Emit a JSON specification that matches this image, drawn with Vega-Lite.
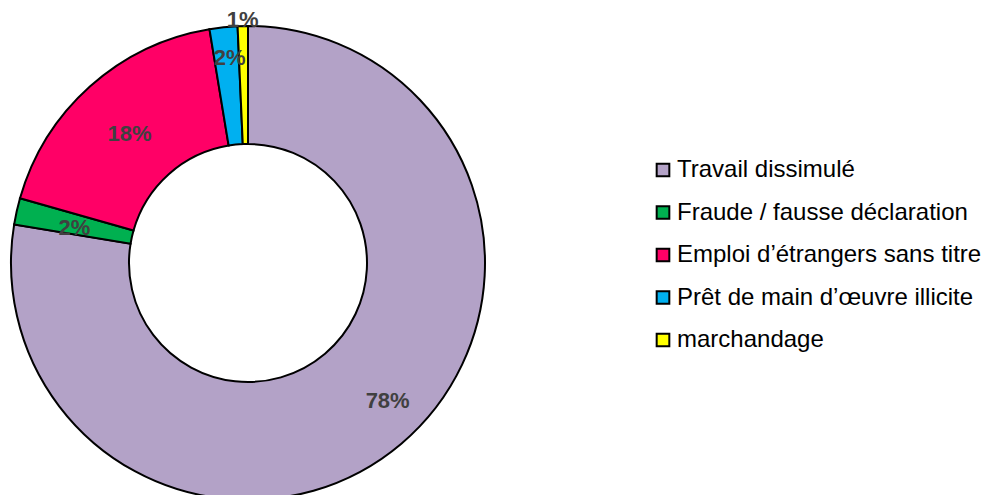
{
  "$schema": "https://vega.github.io/schema/vega-lite/v6.json",
  "width": 496,
  "height": 526,
  "padding": {"left": 0, "top": 0, "right": 0, "bottom": 0},
  "background": "white",
  "config": {"view": {"stroke": null}},
  "data": {
    "values": [
      {"cat": "Travail dissimulé", "v": 77.6, "label": "78%", "k": 1},
      {"cat": "Fraude / fausse déclaration", "v": 1.8, "label": "2%", "k": 2},
      {"cat": "Emploi d’étrangers sans titre", "v": 18.0, "label": "18%", "k": 3},
      {"cat": "Prêt de main d’œuvre illicite", "v": 1.9, "label": "2%", "k": 4},
      {"cat": "marchandage", "v": 0.7, "label": "1%", "k": 5}
    ]
  },
  "encoding": {
    "theta": {"field": "v", "type": "quantitative", "stack": true},
    "order": {"field": "k", "type": "quantitative"}
  },
  "layer": [
    {
      "mark": {"type": "arc", "outerRadius": 237, "innerRadius": 119, "stroke": "black", "strokeWidth": 2},
      "encoding": {
        "color": {
          "field": "cat",
          "type": "nominal",
          "scale": {
            "domain": ["Travail dissimulé", "Fraude / fausse déclaration", "Emploi d’étrangers sans titre", "Prêt de main d’œuvre illicite", "marchandage"],
            "range": ["#B3A2C7", "#00B050", "#FF0066", "#00B0F0", "#FFFF00"]
          },
          "legend": {
            "title": null,
            "orient": "none",
            "legendX": 651,
            "legendY": 158,
            "symbolType": "square",
            "symbolSize": 160,
            "symbolStrokeColor": "black",
            "symbolStrokeWidth": 2,
            "symbolOpacity": 1,
            "labelFont": "Liberation Sans",
            "labelFontSize": 24,
            "labelColor": "black",
            "labelLimit": 400,
            "labelOffset": 2,
            "rowPadding": 18.5
          }
        }
      }
    },
    {
      "mark": {"type": "text", "radius": 188, "dx": 18, "dy": -5, "font": "Liberation Sans", "fontWeight": "bold", "fontSize": 22, "fill": "#404040"},
      "encoding": {
        "text": {"condition": {"test": "datum.k == 1", "field": "label"}, "value": ""}
      }
    },
    {
      "mark": {"type": "text", "radius": 178, "dy": 4, "font": "Liberation Sans", "fontWeight": "bold", "fontSize": 22, "fill": "#404040"},
      "encoding": {
        "text": {"condition": {"test": "datum.k == 2 || datum.k == 3", "field": "label"}, "value": ""}
      }
    },
    {
      "mark": {"type": "text", "radius": 206, "dx": 3, "font": "Liberation Sans", "fontWeight": "bold", "fontSize": 22, "fill": "#404040"},
      "encoding": {
        "text": {"condition": {"test": "datum.k == 4", "field": "label"}, "value": ""}
      }
    },
    {
      "mark": {"type": "text", "radius": 243, "font": "Liberation Sans", "fontWeight": "bold", "fontSize": 22, "fill": "#404040"},
      "encoding": {
        "text": {"condition": {"test": "datum.k == 5", "field": "label"}, "value": ""}
      }
    }
  ]
}
